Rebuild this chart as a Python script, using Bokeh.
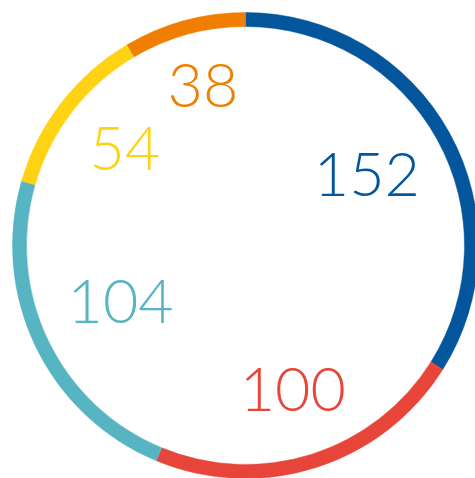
from math import pi, sin, cos
from bokeh.plotting import figure
from bokeh.models import Range1d, ColumnDataSource
from bokeh.core.properties import value
from bokeh.embed import file_html
from bokeh.resources import INLINE

values = [152, 100, 104, 54, 38]
labels = ["152", "100", "104", "54", "38"]
colors = ["#03569B", "#E8453A", "#57B4C2", "#FFD314", "#F07E00"]

# layout constants (pixels)
W, H = 475, 478
CX, CY = 245, 245          # ring centre in pixels from top-left
R_OUT, R_IN = 233, 219
R_TEXT = 191               # circle the label boxes rest against
FONT_PX = 61
DIGIT_W = 0.52 * FONT_PX
DIGIT_H = 0.72 * FONT_PX

total = float(sum(values))
starts, ends, lx, ly = [], [], [], []
cum = 0.0
for v, lab in zip(values, labels):
    a0 = pi / 2 - 2 * pi * cum / total
    a1 = pi / 2 - 2 * pi * (cum + v) / total
    starts.append(a0)
    ends.append(a1)
    mid = (a0 + a1) / 2
    w = DIGIT_W * len(lab)
    support = (w / 2) * abs(cos(mid)) + (DIGIT_H / 2) * abs(sin(mid))
    r = R_TEXT - support
    lx.append(r * cos(mid))
    ly.append(r * sin(mid))
    cum += v

src = ColumnDataSource(dict(start=starts, end=ends, color=colors, lx=lx, ly=ly, label=labels))

p = figure(width=W, height=H, output_backend="svg", toolbar_location=None,
           x_range=Range1d(-CX, W - CX), y_range=Range1d(CY - H, CY),
           min_border=0, outline_line_color=None)
p.axis.visible = False
p.grid.visible = False
p.background_fill_color = "white"
p.border_fill_color = "white"

p.annular_wedge(x=0, y=0, inner_radius=R_IN, outer_radius=R_OUT,
                start_angle="start", end_angle="end", direction="clock",
                fill_color="color", line_color="color", line_width=0.5, source=src)

p.text(x="lx", y="ly", text="label", text_color="color", source=src,
       text_font=value("Lato Light"), text_font_size=f"{FONT_PX}px",
       text_align="center", text_baseline="middle", y_offset=-4)

open("out.html", "w").write(file_html(p, INLINE))
